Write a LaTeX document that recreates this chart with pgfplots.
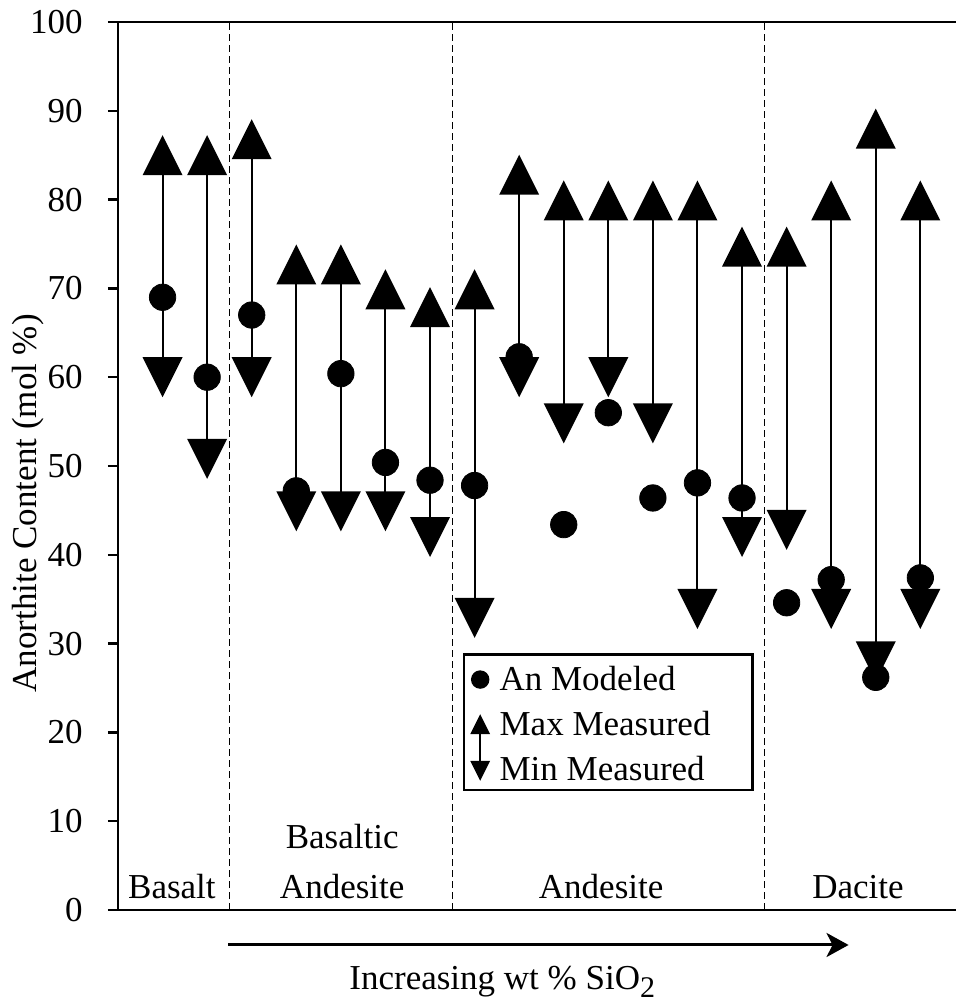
\documentclass[border=0pt]{standalone}
\usepackage{pgfplots}
\pgfplotsset{compat=1.18}
\usepackage{pgfplotstable}
\usepackage{fontspec}
\setmainfont{Liberation Serif}
\usetikzlibrary{arrows.meta}

% Anorthite content per sample: measured maximum, measured minimum, modeled value
\pgfplotstableread{
x  hi    lo    an
1  85.0  60.0  69.0
2  85.0  50.8  60.0
3  86.8  60.0  67.0
4  72.7  44.9  47.2
5  72.7  44.9  60.4
6  69.9  44.9  50.4
7  67.9  42.0  48.4
8  69.9  32.9  47.8
9  82.8  60.0  62.3
10 79.9  54.8  43.4
11 79.9  60.0  56.0
12 79.9  54.8  46.4
13 79.9  33.9  48.1
14 74.7  42.0  46.4
15 74.7  42.8  34.6
16 79.9  33.9  37.2
17 88.0  28.0  26.2
18 79.9  33.9  37.4
}\andata

% filled triangles, 20pt wide and 20pt tall, centred on their bounding box
\pgfdeclareplotmark{tri up}{%
  \pgfpathmoveto{\pgfqpoint{0pt}{10pt}}%
  \pgfpathlineto{\pgfqpoint{10pt}{-10pt}}%
  \pgfpathlineto{\pgfqpoint{-10pt}{-10pt}}%
  \pgfpathclose\pgfusepathqfill}
\pgfdeclareplotmark{tri down}{%
  \pgfpathmoveto{\pgfqpoint{0pt}{-10pt}}%
  \pgfpathlineto{\pgfqpoint{10pt}{10pt}}%
  \pgfpathlineto{\pgfqpoint{-10pt}{10pt}}%
  \pgfpathclose\pgfusepathqfill}

\newcommand{\txt}{\fontsize{17.5}{21}\selectfont}

\begin{document}
\begin{tikzpicture}
\useasboundingbox (-59pt,-46pt) rectangle (419pt,455pt);
\begin{axis}[
  at={(0,0)}, anchor=south west,
  scale only axis, width=419pt, height=444pt,
  xmin=0, xmax=18.8, ymin=0, ymax=100,
  axis lines=left, axis line style={-, line width=1.2pt},
  xtick=\empty, ytick={0,10,...,100},
  tick align=outside, major tick length=5pt,
  tick style={line width=1.2pt, black},
  /pgf/number format/assume math mode=true,
  yticklabel style={font=\txt, inner sep=0pt, xshift=-12.5pt},
  ylabel={Anorthite Content (mol \%)},
  ylabel style={font=\txt, at={(axis description cs:-0.107,0.458)}, anchor=center},
  clip=false,
  legend style={at={(axis cs:7.74,28.9)}, anchor=north west,
    draw=black, line width=1.2pt, font=\txt,
    inner xsep=0pt, inner ysep=1pt, row sep=5pt, column sep=0pt,
    cells={anchor=west}},
  legend cell align=left,
]
% modeled values
\addplot[only marks, mark=*, mark size=6.6pt, black,
  legend image code/.code={\path[draw=none, fill=none] (-8pt,-4pt) rectangle (7.7pt,11.5pt);
    \fill[black] (0pt,0pt) circle (4pt);}]
  table[x=x, y=an] {\andata};
\addlegendentry{An Modeled}
% measured maxima, with the range down to the minima
\addplot[only marks, mark=tri up, black,
  legend image code/.code={\path[draw=none, fill=none] (-8pt,-4pt) rectangle (7.7pt,4pt);
    \fill[black] (0pt,4pt) -- (4pt,-4pt) -- (-4pt,-4pt) -- cycle;
    \draw[overlay, line width=1pt, black] (0pt,-4pt) -- (0pt,-20pt);},
  error bars/.cd, y dir=minus, y explicit, error mark=none,
  error bar style={line width=1pt, black}]
  table[x=x, y=hi, y error expr=\thisrow{hi}-\thisrow{lo}] {\andata};
\addlegendentry{Max Measured\hspace*{19pt}}
% measured minima
\addplot[only marks, mark=tri down, black,
  legend image code/.code={\path[draw=none, fill=none] (-8pt,-4pt) rectangle (7.7pt,4pt);
    \fill[black] (0pt,-4pt) -- (4pt,4pt) -- (-4pt,4pt) -- cycle;}]
  table[x=x, y=lo] {\andata};
\addlegendentry{Min Measured}

% closing line along the top
\draw[line width=1.2pt] (rel axis cs:0,1) -- (rel axis cs:1,1);
% rock-type boundaries
\draw[line width=0.7pt, dash pattern=on 3.5pt off 2pt] (axis cs:2.5,0) -- (axis cs:2.5,100);
\draw[line width=0.7pt, dash pattern=on 3.5pt off 2pt] (axis cs:7.5,0) -- (axis cs:7.5,100);
\draw[line width=0.7pt, dash pattern=on 3.5pt off 2pt] (axis cs:14.5,0) -- (axis cs:14.5,100);
% rock-type names
\node[font=\txt, anchor=base west] at (axis cs:0.07,1.3) {Basalt};
\node[font=\txt, anchor=base] at (axis cs:5.03,6.9) {Basaltic};
\node[font=\txt, anchor=base] at (axis cs:5.03,1.3) {Andesite};
\node[font=\txt, anchor=base] at (axis cs:10.84,1.3) {Andesite};
\node[font=\txt, anchor=base] at (axis cs:16.6,1.3) {Dacite};
% silica trend
\draw[line width=1.5pt, -{Stealth[length=11pt, width=12pt, inset=3pt]}]
  (axis cs:2.47,-3.94) -- (axis cs:16.39,-3.94);
\node[font=\txt, anchor=base] at (axis cs:8.62,-9.0)
  {Increasing wt \% SiO\raisebox{-0.22em}{\fontsize{15}{15}\selectfont 2}};
\end{axis}
\end{tikzpicture}
\end{document}
